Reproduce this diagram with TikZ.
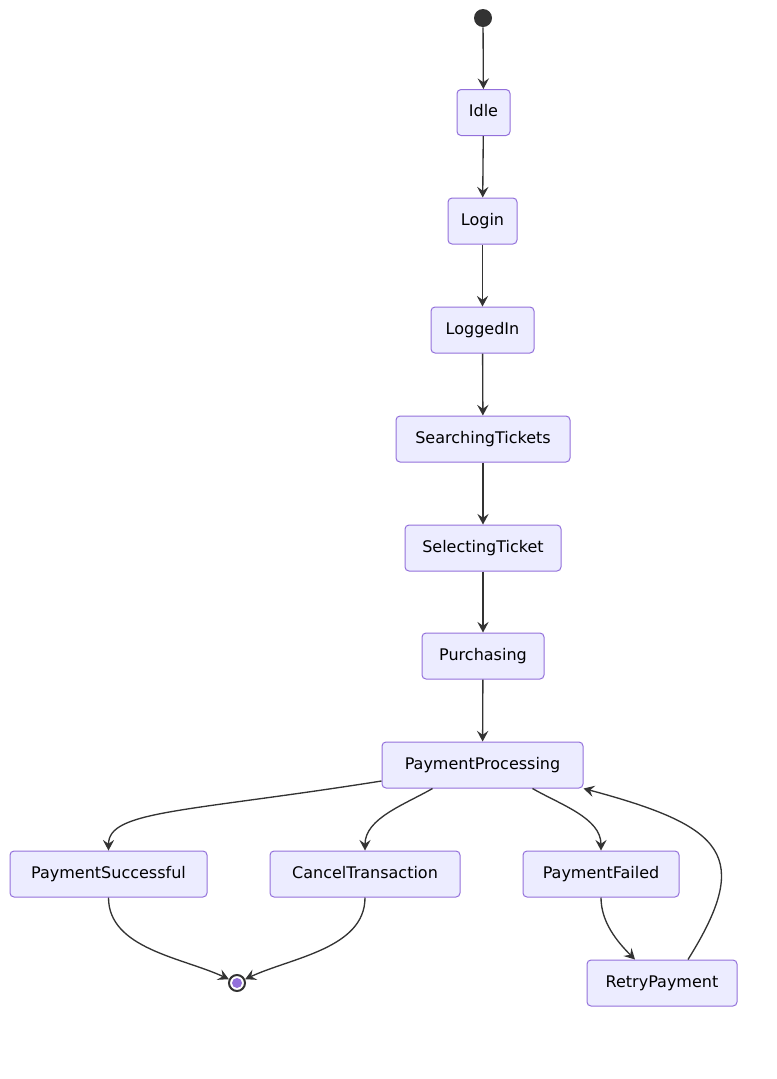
\documentclass[tikz,border=0pt]{standalone}
\usepackage{fontspec}
\setmainfont{DejaVu Sans}
\usetikzlibrary{positioning,arrows.meta,calc}
\definecolor{stfill}{HTML}{ECECFF}
\definecolor{stline}{HTML}{9370DB}
\definecolor{edgeclr}{HTML}{333333}
\tikzset{
  statebox/.style={draw=stline, fill=stfill, rounded corners=3pt, line width=0.75pt, minimum height=34.5pt, inner xsep=6pt, text height=9pt, text depth=2.5pt, font=\fontsize{12}{14}\selectfont, text=black},
  transarrow/.style={-{Stealth[length=8pt, width=8.5pt, inset=3pt]}, line width=1pt, draw=edgeclr},
  startdot/.style={circle, fill=edgeclr, inner sep=0pt, minimum size=13.5pt},
  enddot/.style={circle, draw=edgeclr, line width=1.5pt, fill=white, inner sep=0pt, minimum size=12pt}
}
\begin{document}
\begin{tikzpicture}[x=0.75pt, y=-0.75pt]
  \useasboundingbox (0,0) rectangle (776,1079);
  \node[startdot] (start) at (483,18) {};
  \node[statebox, minimum width=39.75pt] (idle) at (483.5,112.5) {Idle};
  \node[statebox, minimum width=51.75pt] (login) at (482.5,221) {Login};
  \node[statebox, minimum width=77.25pt] (loggedin) at (482.5,330) {LoggedIn};
  \node[statebox, minimum width=130.5pt] (searching) at (483,439) {SearchingTickets};
  \node[statebox, minimum width=117pt] (selecting) at (483,548) {SelectingTicket};
  \node[statebox, minimum width=91.5pt] (purchasing) at (483,656) {Purchasing};
  \node[statebox, minimum width=150.75pt] (processing) at (482.5,765) {PaymentProcessing};
  \node[statebox, minimum width=147.75pt] (success) at (108.5,874) {PaymentSuccessful};
  \node[statebox, minimum width=142.5pt] (cancel) at (365,874) {CancelTransaction};
  \node[statebox, minimum width=117pt] (failed) at (601,874) {PaymentFailed};
  \node[statebox, minimum width=112.5pt] (retry) at (662,983) {RetryPayment};
  \node[enddot] (finish) at (237,983) {};
  \fill[stline] (finish.center) circle (5);

  \draw[transarrow] (start) -- (idle);
  \draw[transarrow] (idle) -- (login);
  \draw[transarrow] (login) -- (loggedin);
  \draw[transarrow] (loggedin) -- (searching);
  \draw[transarrow] (searching) -- (selecting);
  \draw[transarrow] (selecting) -- (purchasing);
  \draw[transarrow] (purchasing) -- (processing);
  \draw[transarrow] ($(processing.west)+(0,16)$) to[out=189, in=90, out distance=150pt, in distance=30pt] (success.north);
  \draw[transarrow] ($(processing.south)+(-50,0)$) to[out=-150, in=90, looseness=0.9] (cancel.north);
  \draw[transarrow] ($(processing.south)+(50,0)$) to[out=-30, in=90, looseness=0.9] (failed.north);
  \draw[transarrow] (failed.south) to[out=-90, in=135, looseness=0.9] ($(retry.north)+(-27,0)$);
  \draw[transarrow] ($(retry.north)+(26,0)$) to[out=58, in=-15, out distance=92pt, in distance=110pt] (processing.south east);
  \draw[transarrow] (success.south) to[out=-90, in=155, looseness=0.9] (finish);
  \draw[transarrow] (cancel.south) to[out=-90, in=25, looseness=0.9] (finish);
\end{tikzpicture}
\end{document}
